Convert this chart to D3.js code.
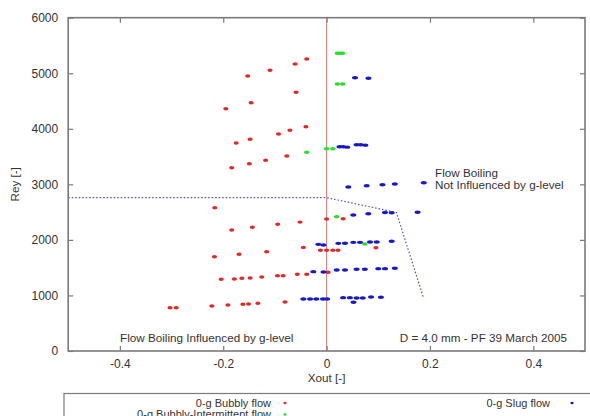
<!DOCTYPE html>
<html>
<head>
<meta charset="utf-8">
<script src="https://cdn.jsdelivr.net/npm/d3@7"></script>
<style>
html,body{margin:0;padding:0;background:#fff;}
svg{display:block;font-family:"Liberation Sans",Arial,sans-serif;}
</style>
</head>
<body>
<svg id="chart" width="590" height="416"></svg>
<script>
// ---- data ----
const xTicks = [-0.4, -0.2, 0, 0.2, 0.4];
const xTickLabels = ["-0.4", "-0.2", "0", "0.2", "0.4"];
const yTicks = [0, 1000, 2000, 3000, 4000, 5000, 6000];
const yTickLabels = ["0", "1000", "2000", "3000", "4000", "5000", "6000"];

// 0-g Bubbly flow [Xout, Rey]
const bubbly = [
  [-0.0385,5257],[-0.061,5166],[-0.1095,5053],[-0.1526,4950],
  [-0.059,4657],[-0.146,4470],[-0.195,4362],
  [-0.040,4038],[-0.071,3973],[-0.093,3906],[-0.148,3811],[-0.175,3744],
  [-0.077,3510],[-0.118,3433],[-0.1495,3372],[-0.1836,3300],
  [-0.2164,2580],
  [-0.1836,2178],[-0.1437,2227],[-0.0946,2281],[-0.0515,2320],[0.0,2376],[0.032,2381],
  [-0.217,1698],[-0.1694,1741],[-0.116,1788],[-0.045,1865],
  [-0.012,1815],[0.0,1815],[0.012,1815],[0.022,1815],[0.0955,1860],
  [-0.204,1291],[-0.1785,1296],[-0.164,1309],[-0.148,1314],[-0.1255,1332],
  [-0.095,1355],[-0.084,1355],[-0.0567,1381],[-0.0385,1381],[0.003,1417],
  [-0.303,779],[-0.291,779],[-0.222,810],[-0.191,828],[-0.162,841],[-0.151,846],
  [-0.133,859],[-0.0805,882]
];

// 0-g Bubbly-Intermittent flow
const bubblyInt = [
  [0.026,5359],[0.021,5359],[0.031,5359],
  [0.021,4806],[0.031,4806],
  [0.0,3642],[0.012,3642],[-0.0385,3577],
  [0.0195,2418],[0.074,1926]
];

// 0-g Slug flow
const slug = [
  [0.055,4920],[0.081,4909],
  [0.025,3678],[0.032,3678],[0.04,3670],[0.058,3714],[0.066,3714],[0.075,3706],
  [0.042,2952],[0.0776,2976],[0.108,2994],[0.132,3006],[0.188,3030],
  [0.0517,2448],[0.0807,2472],[0.113,2492],[0.126,2490],[0.176,2497],
  [-0.016,1920],[-0.006,1908],[0.0227,1938],[0.0356,1940],[0.0517,1956],
  [0.0646,1956],[0.084,1962],[0.097,1962],[0.126,1975],
  [-0.0257,1428],[-0.006,1422],[0.0195,1458],[0.0356,1458],[0.058,1471],
  [0.074,1471],[0.1,1482],[0.113,1482],[0.132,1489],
  [-0.045,936],[-0.032,936],[-0.02,936],[-0.007,936],[0.001,936],
  [0.032,960],[0.045,960],[0.058,954],[0.07,954],[0.052,877],[0.086,972],[0.105,967]
];

// boundary line (dotted)
const boundary = [[-0.5,2760],[0,2760],[0.135,2495],[0.187,970]];

// annotations
const labelNotInfl = ["Flow Boiling", "Not Influenced by g-level"];
const labelInfl = "Flow Boiling Influenced by g-level";
const labelInfo = "D = 4.0 mm - PF 39 March 2005";
const seriesNames = ["0-g Bubbly flow", "0-g Bubbly-Intermittent flow", "0-g Slug flow"];

// ---- drawing ----
const svg = d3.select("#chart");
const L = 68.2, R = 585, T = 17.7, B = 351;
const x = d3.scaleLinear().domain([-0.5, 0.5]).range([L, R]);
const y = d3.scaleLinear().domain([0, 6000]).range([B, T]);

const frameCol = "#7a7a7a", textCol = "#333";
const fs = 11.7;

// zero line
svg.append("line").attr("x1", x(0)).attr("x2", x(0)).attr("y1", T).attr("y2", B)
  .attr("stroke", "#e07a7a").attr("stroke-width", 1);

// boundary
svg.append("path").datum(boundary)
  .attr("d", d3.line().x(d => x(d[0])).y(d => y(d[1])))
  .attr("fill", "none").attr("stroke", "#5050c8").attr("stroke-width", 1.2)
  .attr("stroke-dasharray", "1.5,2");

// points
function drawPts(data, col, rx, ry) {
  svg.append("g").selectAll("ellipse").data(data).join("ellipse")
    .attr("cx", d => x(d[0])).attr("cy", d => y(d[1]))
    .attr("rx", rx).attr("ry", ry).attr("fill", col);
}
drawPts(bubbly, "#e02828", 2.6, 1.7);
drawPts(bubblyInt, "#28e028", 2.8, 1.7);
drawPts(slug, "#1818c8", 3.0, 1.7);

// frame
svg.append("rect").attr("x", L).attr("y", T).attr("width", R - L).attr("height", B - T)
  .attr("fill", "none").attr("stroke", frameCol).attr("stroke-width", 1.6);

// axes (ticks inward, mirrored)
const xAxisB = d3.axisBottom(x).tickValues(xTicks).tickSizeInner(-5).tickSizeOuter(0)
  .tickFormat((d, i) => xTickLabels[i]).tickPadding(8);
const gxb = svg.append("g").attr("transform", `translate(0,${B})`).call(xAxisB);
const xAxisT = d3.axisTop(x).tickValues(xTicks).tickSizeInner(-5).tickSizeOuter(0).tickFormat("");
const gxt = svg.append("g").attr("transform", `translate(0,${T})`).call(xAxisT);
const yAxisL = d3.axisLeft(y).tickValues(yTicks).tickSizeInner(-5).tickSizeOuter(0)
  .tickFormat((d, i) => yTickLabels[i]).tickPadding(10);
const gyl = svg.append("g").attr("transform", `translate(${L},0)`).call(yAxisL);
const yAxisR = d3.axisRight(y).tickValues(yTicks).tickSizeInner(-5).tickSizeOuter(0).tickFormat("");
const gyr = svg.append("g").attr("transform", `translate(${R},0)`).call(yAxisR);
[gxb, gxt, gyl, gyr].forEach(g => {
  g.select(".domain").remove();
  g.selectAll(".tick line").attr("stroke", frameCol).attr("stroke-width", 1.2);
  g.selectAll(".tick text").attr("fill", textCol).attr("font-size", 12)
    .attr("font-family", "'Liberation Sans', Arial, sans-serif");
});

// axis titles
svg.append("text").attr("x", x(0)).attr("y", 382).attr("text-anchor", "middle")
  .attr("font-size", fs).attr("fill", textCol).text("Xout [-]");
svg.append("text").attr("transform", `translate(19,${y(3000)}) rotate(-90)`)
  .attr("text-anchor", "middle").attr("font-size", fs).attr("fill", textCol).text("Rey [-]");

// annotations
svg.append("text").attr("x", 435).attr("y", 177).attr("font-size", fs).attr("fill", textCol).text(labelNotInfl[0]);
svg.append("text").attr("x", 435).attr("y", 189).attr("font-size", fs).attr("fill", textCol).text(labelNotInfl[1]);
svg.append("text").attr("x", 120).attr("y", 342).attr("font-size", fs).attr("fill", textCol).text(labelInfl);
svg.append("text").attr("x", 567).attr("y", 342).attr("text-anchor", "end").attr("font-size", fs).attr("fill", textCol).text(labelInfo);

// legend
const lg = svg.append("g");
lg.append("rect").attr("x", 64).attr("y", 393.5).attr("width", 560).attr("height", 40)
  .attr("fill", "none").attr("stroke", frameCol).attr("stroke-width", 1.2);
const legendItems = [
  {name: seriesNames[0], col: "#e02828", tx: 271, mx: 285, yy: 403},
  {name: seriesNames[1], col: "#28e028", tx: 271, mx: 285, yy: 414.5},
  {name: seriesNames[2], col: "#1818c8", tx: 550, mx: 572, yy: 403}
];
legendItems.forEach(it => {
  lg.append("text").attr("x", it.tx).attr("y", it.yy + 3.8).attr("text-anchor", "end")
    .attr("font-size", 11).attr("fill", textCol).text(it.name);
  lg.append("ellipse").attr("cx", it.mx).attr("cy", it.yy).attr("rx", 1.6).attr("ry", 1.2).attr("fill", it.col);
});
</script>
</body>
</html>
